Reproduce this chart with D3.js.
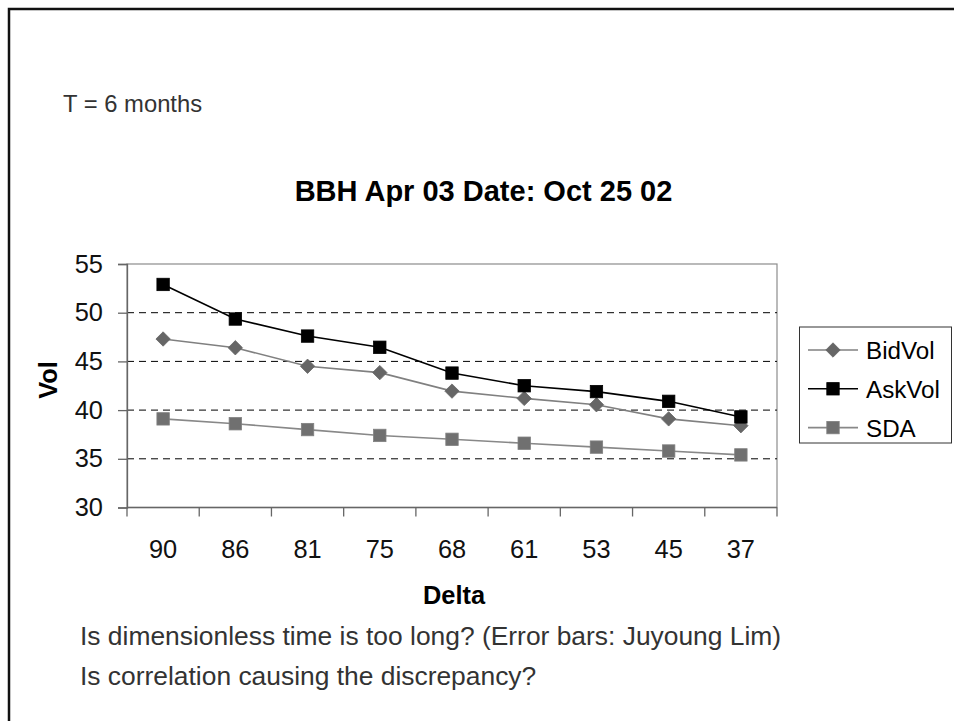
<!DOCTYPE html>
<html>
<head>
<meta charset="utf-8">
<script src="https://cdn.jsdelivr.net/npm/d3@7"></script>
<style>
  html, body { margin: 0; padding: 0; background: #fff; }
  svg { display: block; font-family: "Liberation Sans", Arial, Helvetica, sans-serif; }
</style>
</head>
<body>
<svg id="chart" width="954" height="721"></svg>
<script>
// Delta buckets along the x axis
const deltas = ["90", "86", "81", "75", "68", "61", "53", "45", "37"];
// Implied volatilities per delta bucket
const bidVol = [47.3, 46.4, 44.5, 43.85, 41.95, 41.2, 40.55, 39.1, 38.4];
const askVol = [52.9, 49.35, 47.6, 46.45, 43.8, 42.5, 41.9, 40.9, 39.3];
const sda    = [39.1, 38.6, 38.0, 37.4, 37.0, 36.6, 36.2, 35.8, 35.4];
// Vertical axis ticks
const volTicks = [30, 35, 40, 45, 50, 55];
const gridTicks = [35, 40, 45, 50];

const series = [
  { name: "BidVol", values: bidVol, line: "#808080", fill: "#666666", stroke: "#666666", shape: "diamond" },
  { name: "AskVol", values: askVol, line: "#000000", fill: "#000000", stroke: "#000000", shape: "square" },
  { name: "SDA",    values: sda,    line: "#888888", fill: "#707070", stroke: "#808080", shape: "square" }
];

const svg = d3.select("#chart");

// Slide frame (top and left edges)
svg.append("path")
  .attr("d", "M9,721 V9 H954")
  .attr("fill", "none")
  .attr("stroke", "#111")
  .attr("stroke-width", 2.5);

// Header note
svg.append("text")
  .attr("x", 63).attr("y", 111.5)
  .attr("font-size", 23.8).attr("fill", "#333")
  .text("T = 6 months");

// Plot area geometry
const plot = { left: 127, right: 777, top: 264, bottom: 507.5 };

const x = d3.scaleBand().domain(deltas).range([plot.left, plot.right]).padding(0);
const y = d3.scaleLinear().domain([30, 55]).range([plot.bottom, plot.top]);

// Chart title
svg.append("text")
  .attr("x", 483.5).attr("y", 201)
  .attr("text-anchor", "middle")
  .attr("font-size", 29).attr("font-weight", "bold").attr("fill", "#000")
  .text("BBH Apr 03 Date: Oct 25 02");

// Plot area frame
svg.append("rect")
  .attr("x", plot.left).attr("y", plot.top)
  .attr("width", plot.right - plot.left).attr("height", plot.bottom - plot.top)
  .attr("fill", "#fff").attr("stroke", "#8c8c8c").attr("stroke-width", 1.2);

// Dashed horizontal gridlines
svg.append("g").selectAll("line")
  .data(gridTicks).join("line")
  .attr("x1", plot.left).attr("x2", plot.right)
  .attr("y1", d => y(d)).attr("y2", d => y(d))
  .attr("stroke", "#000").attr("stroke-width", 1)
  .attr("stroke-dasharray", "7,5");

// Y axis
const yAxis = svg.append("g")
  .attr("transform", `translate(${plot.left},0)`)
  .call(d3.axisLeft(y).tickValues(volTicks).tickSize(9).tickPadding(15));
yAxis.select(".domain").attr("stroke", "#666").attr("stroke-width", 1.3);
yAxis.selectAll(".tick line").attr("stroke", "#666").attr("stroke-width", 1.3);
yAxis.selectAll(".tick text")
  .attr("font-size", 25.4).attr("fill", "#111")
  .attr("font-family", "'Liberation Sans', Arial, sans-serif");

// X axis with ticks between categories
const xAxisG = svg.append("g").attr("transform", `translate(0,${plot.bottom})`);
xAxisG.append("line")
  .attr("x1", plot.left).attr("x2", plot.right)
  .attr("stroke", "#666").attr("stroke-width", 1.3);
const boundaries = deltas.map(d => x(d)).concat([x(deltas[deltas.length - 1]) + x.bandwidth()]);
xAxisG.selectAll("line.tk").data(boundaries).join("line")
  .attr("class", "tk")
  .attr("x1", d => d).attr("x2", d => d)
  .attr("y1", 0).attr("y2", 9)
  .attr("stroke", "#666").attr("stroke-width", 1.3);
xAxisG.selectAll("text").data(deltas).join("text")
  .attr("x", d => x(d) + x.bandwidth() / 2)
  .attr("y", 50)
  .attr("text-anchor", "middle")
  .attr("font-size", 25.4).attr("fill", "#111")
  .text(d => d);

// Axis titles
svg.append("text")
  .attr("x", (plot.left + plot.right) / 2 + 2).attr("y", 603.5)
  .attr("text-anchor", "middle")
  .attr("font-size", 25.4).attr("font-weight", "bold").attr("fill", "#000")
  .text("Delta");
svg.append("text")
  .attr("transform", "translate(57,380) rotate(-90)")
  .attr("text-anchor", "middle")
  .attr("font-size", 25.4).attr("font-weight", "bold").attr("fill", "#000")
  .text("Vol");

// Marker drawing helper
function drawMarker(g, shape, cx, cy, s) {
  if (shape === "diamond") {
    const r = 7.2;
    return g.append("path")
      .attr("d", `M${cx},${cy - r} L${cx + r},${cy} L${cx},${cy + r} L${cx - r},${cy} Z`)
      .attr("fill", s.fill).attr("stroke", s.stroke).attr("stroke-width", 0.8);
  }
  const h = 6.2;
  return g.append("rect")
    .attr("x", cx - h).attr("y", cy - h).attr("width", 2 * h).attr("height", 2 * h)
    .attr("fill", s.fill).attr("stroke", s.stroke).attr("stroke-width", 0.8);
}

const line = d3.line()
  .x((d, i) => x(deltas[i]) + x.bandwidth() / 2)
  .y(d => y(d));

// Series lines and markers (SDA first, AskVol last on top)
[series[2], series[0], series[1]].forEach(s => {
  const g = svg.append("g");
  g.append("path")
    .attr("d", line(s.values))
    .attr("fill", "none").attr("stroke", s.line).attr("stroke-width", 1.6);
  s.values.forEach((v, i) => {
    drawMarker(g, s.shape, x(deltas[i]) + x.bandwidth() / 2, y(v), s);
  });
});

// Legend
const legend = svg.append("g");
legend.append("rect")
  .attr("x", 799.5).attr("y", 327).attr("width", 152).attr("height", 116)
  .attr("fill", "#fff").attr("stroke", "#333").attr("stroke-width", 1);
series.forEach((s, i) => {
  const cy = 350 + i * 38.8;
  legend.append("line")
    .attr("x1", 808).attr("x2", 858).attr("y1", cy).attr("y2", cy)
    .attr("stroke", s.line).attr("stroke-width", 1.6);
  drawMarker(legend, s.shape, 833, cy, s);
  legend.append("text")
    .attr("x", 866).attr("y", cy + 9)
    .attr("font-size", 24.2).attr("fill", "#000")
    .text(s.name);
});

// Discussion notes below the chart
const notes = ["Is dimensionless time is too long? (Error bars: Juyoung Lim)",
               "Is correlation causing the discrepancy?"];
svg.append("g").selectAll("text").data(notes).join("text")
  .attr("x", 80).attr("y", (d, i) => 644.5 + i * 40.7)
  .attr("font-size", 26.4).attr("fill", "#333")
  .text(d => d);
</script>
</body>
</html>
